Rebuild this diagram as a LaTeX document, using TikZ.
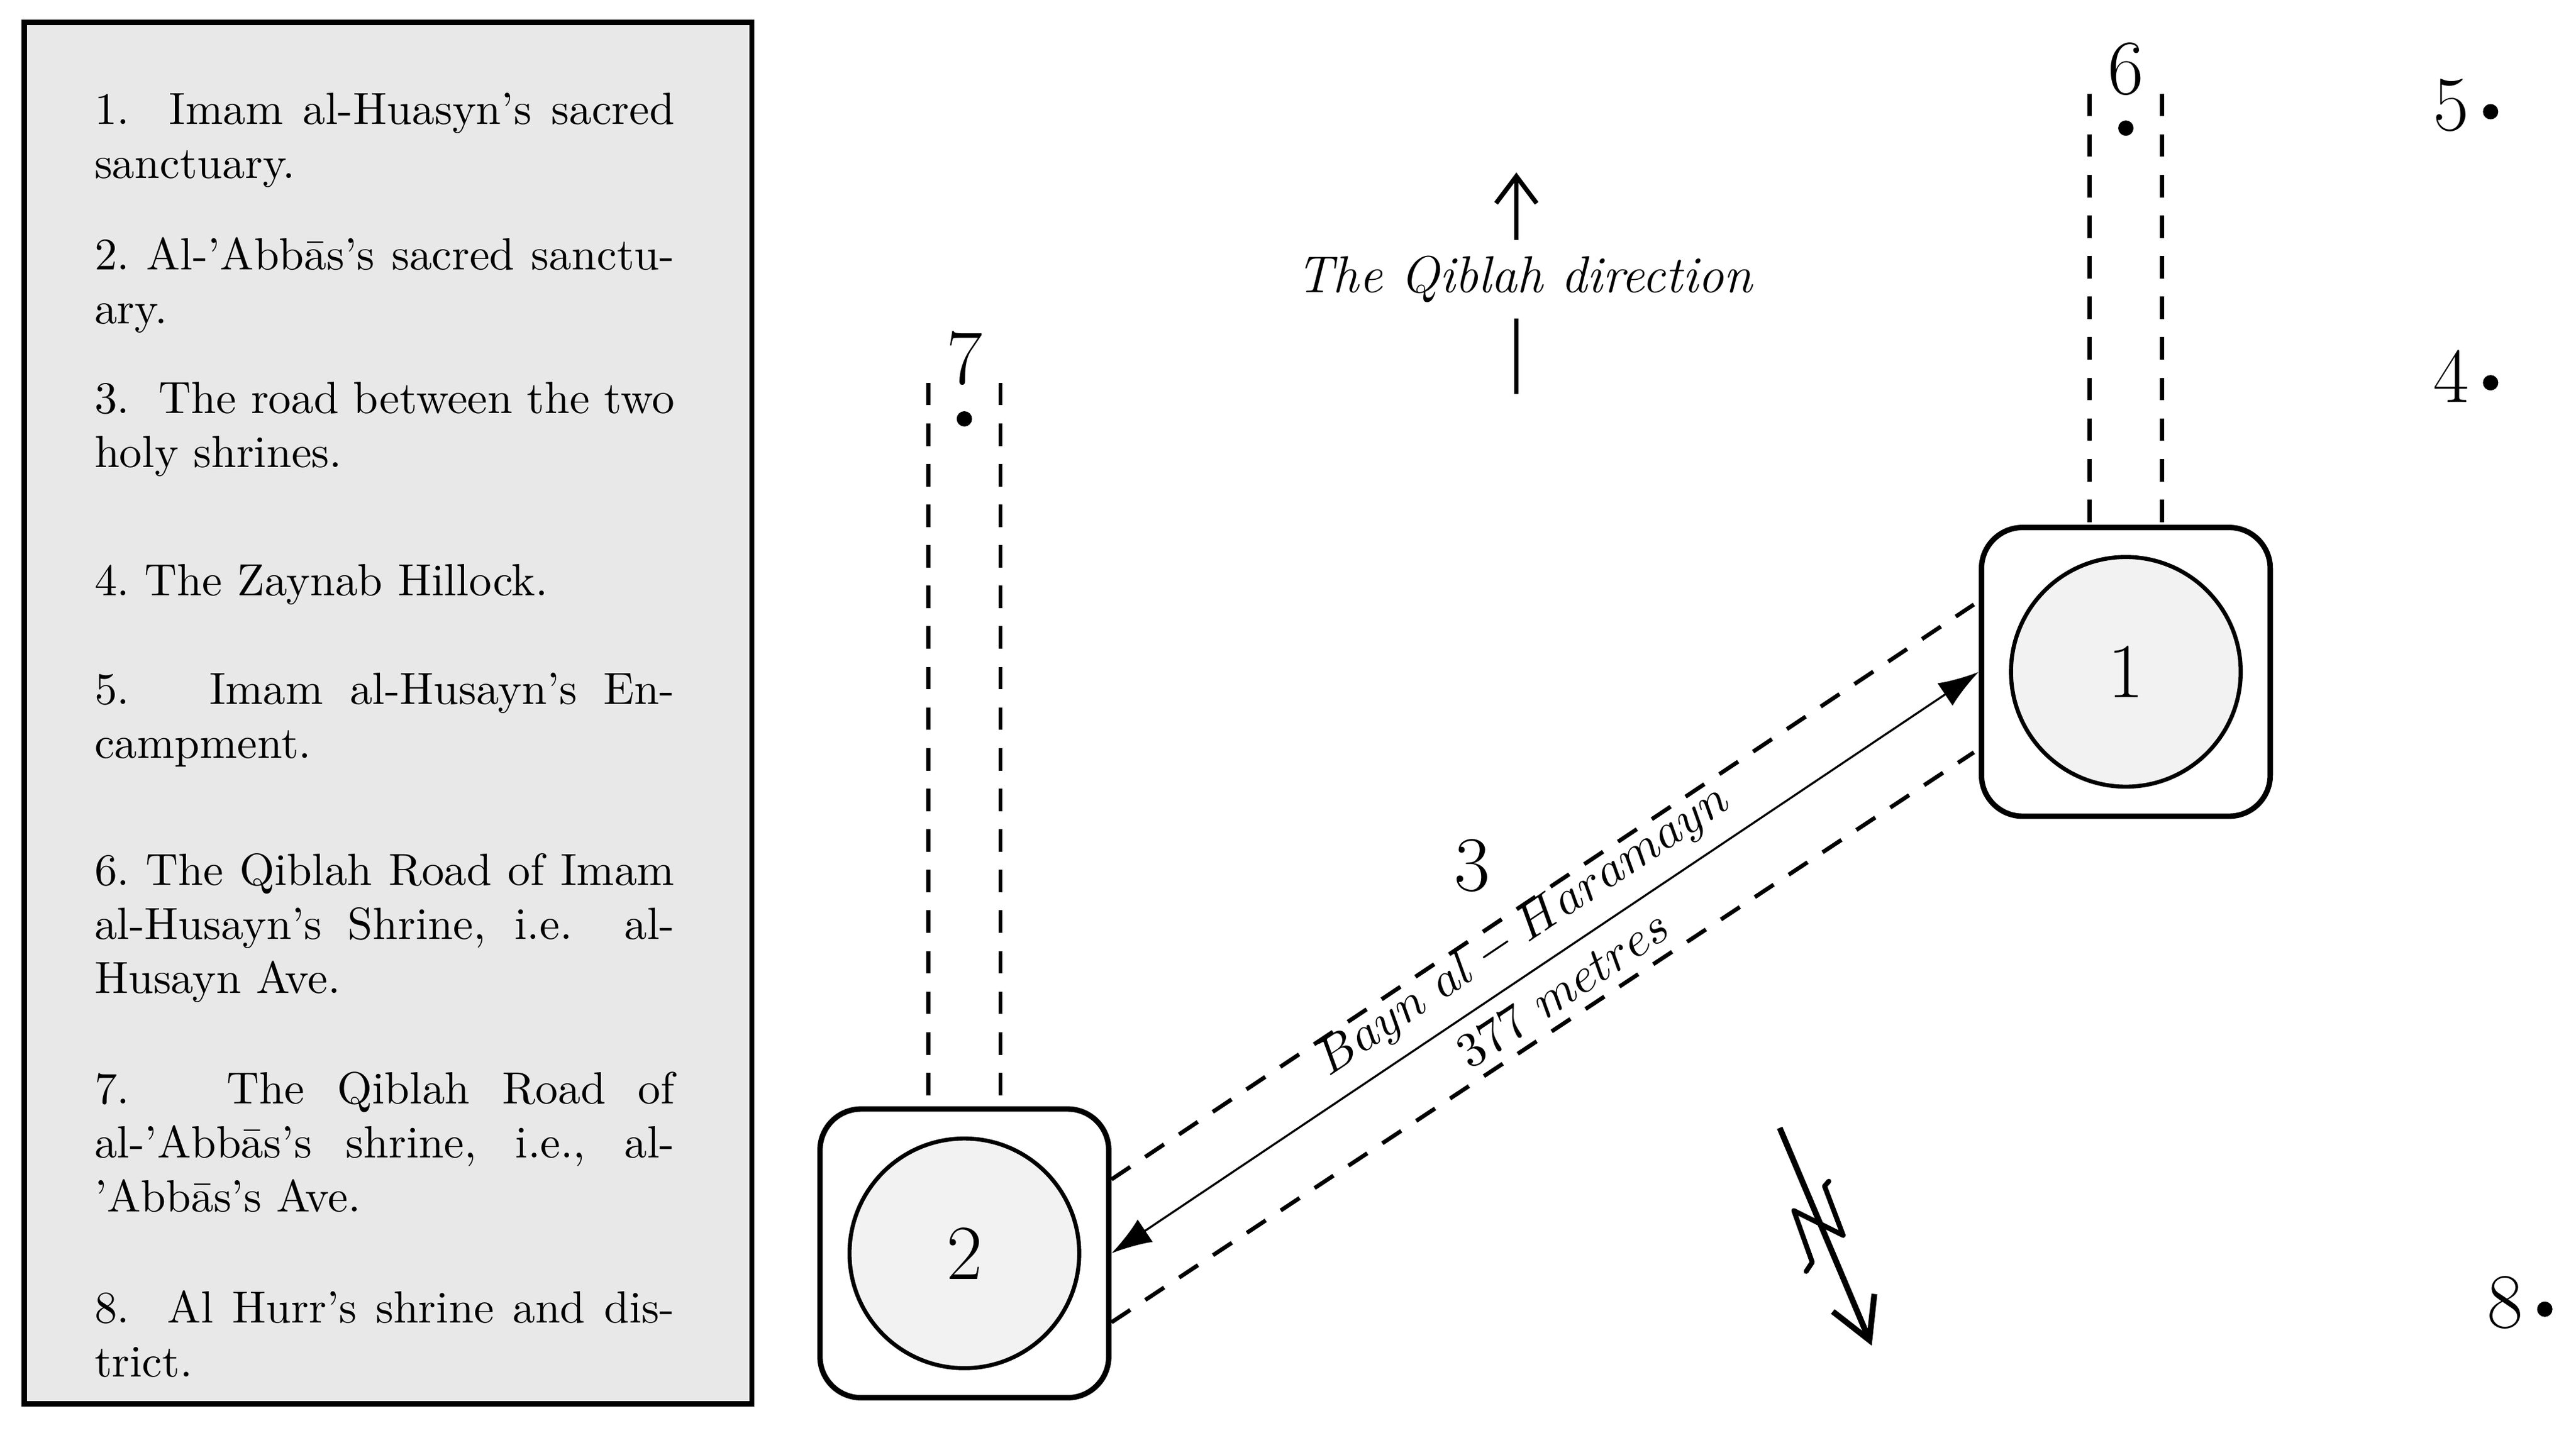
\documentclass[tikz,border=0pt]{standalone}
\usetikzlibrary{arrows.meta,calc}
\begin{document}
\begin{tikzpicture}[x=0.0128cm,y=-0.0128cm,
  item/.style={anchor=north west,inner sep=0pt,text width=4.52cm,align=justify,font=\fontsize{10}{12}\selectfont},
  site/.style={draw,line width=1.2pt,rounded corners=0.32cm,minimum size=2.25cm},
  disk/.style={draw,line width=0.9pt,circle,fill=gray!10,minimum size=1.79cm,font=\LARGE},
  road/.style={dashed,line width=0.9pt,dash pattern=on 5pt off 4pt},
  big/.style={font=\LARGE,inner sep=0pt},
  dot/.style={circle,fill,inner sep=0pt,minimum size=3.4pt}]
\useasboundingbox (0,0) rectangle (1568,872);
% legend
\node[draw,line width=1.2pt,fill=gray!18,minimum width=443*0.0128cm,minimum height=841*0.0128cm,anchor=north west,inner sep=0pt] (legend) at (13,12) {};
\node[item] (i1) at (57,56) {1.\ \ Imam al-Huasyn's sacred sanctuary.};
\node[item] (i2) at (57,144) {2.\ Al-'Abb\=as's sacred sanctu\-ary.};
\node[item] (i3) at (57,232) {3.\ \ The road between the two holy shrines.};
\node[item] (i4) at (57,343) {4.\ The Zaynab Hillock.};
\node[item] (i5) at (57,409) {5.\ \ \ Imam al-Husayn's En\-campment.};
\node[item] (i6) at (57,519) {6.\ The Qiblah Road of Imam al-Husayn's Shrine, i.e.\ \ al-Husayn Ave.};
\node[item] (i7) at (57,652) {7.\ \ \ The Qiblah Road of al-'Abb\=as's shrine, i.e., al-'Abb\=as's Ave.};
\node[item] (i8) at (57,785) {8.\ \ Al Hurr's shrine and dis\-trict.};
% sites
\node[site] (b1) at (1294,409) {};
\node[disk] (c1) at (1294,409) {1};
\node[site] (b2) at (587,763) {};
\node[disk] (c2) at (587,763) {2};
% road 6
\coordinate (r6a) at (1272,57); \coordinate (r6b) at (1316,57);
\draw[road] (r6a) -- (b1.north -| r6a);
\draw[road] (r6b) -- (b1.north -| r6b);
\node[dot] (d6) at (1294,78) {};
\node[big] (n6) at (1294,42) {6};
% road 7
\coordinate (r7a) at (565,233); \coordinate (r7b) at (609,233);
\draw[road] (r7a) -- (b2.north -| r7a);
\draw[road] (r7b) -- (b2.north -| r7b);
\node[dot] (d7) at (587,255) {};
\node[big] (n7) at (587,218) {7};
% points 5,4,8
\node[big] (n5) at (1492,64) {5}; \node[dot] (d5) at (1516,68) {};
\node[big] (n4) at (1492,229) {4}; \node[dot] (d4) at (1516,233) {};
\node[big] (n8) at (1525,793) {8}; \node[dot] (d8) at (1549,797) {};
% road 3
\coordinate (u2) at ($(b2.east)+(0,-45)$); \coordinate (u1) at ($(b1.west)+(-3,-41)$);
\coordinate (l2) at ($(b2.east)+(0,42)$); \coordinate (l1) at ($(b1.west)+(-3,49)$);
\draw[road] (u2) -- (u1);
\draw[road] (l2) -- (l1);
\draw[line width=0.45pt,{Latex[length=9pt,width=6pt]}-{Latex[length=9pt,width=6pt]}] (b2.east) -- (b1.west)
  node[midway,sloped,above=0pt,font=\fontsize{10.5}{12}\selectfont] (lb) {$Bayn\ al-Haramayn$}
  node[midway,sloped,below=0pt,font=\fontsize{10.5}{12}\selectfont] (lm) {$377\ metres$};
\node[big] (n3) at (896,527) {3};
% qiblah
\node[font=\fontsize{11.5}{14}\selectfont\itshape] (q) at (928,170) {The Qiblah direction};
\coordinate (q0) at (923,240); \coordinate (q1) at (923,105);
\draw[line width=1pt] (q0) -- (q0 |- q.south);
\draw[line width=1pt,-{Straight Barb[length=6pt,width=9pt]}] (q0 |- q.north) -- (q1);
% lightning / north arrow
\coordinate (s0) at (1083.3,686.6); \coordinate (s1) at (1139.3,819.2);
\draw[line width=1.3pt,-{Straight Barb[length=9pt,width=10pt]}] (s0) -- (s1);
\draw[line width=1.1pt,line cap=round,line join=round] (1113.2,719.1) -- (1110.6,722.1) -- (1121.9,752.0) -- (1091.9,737.0) -- (1103.1,768.4) -- (1099.4,774.0);
\end{tikzpicture}
\end{document}
